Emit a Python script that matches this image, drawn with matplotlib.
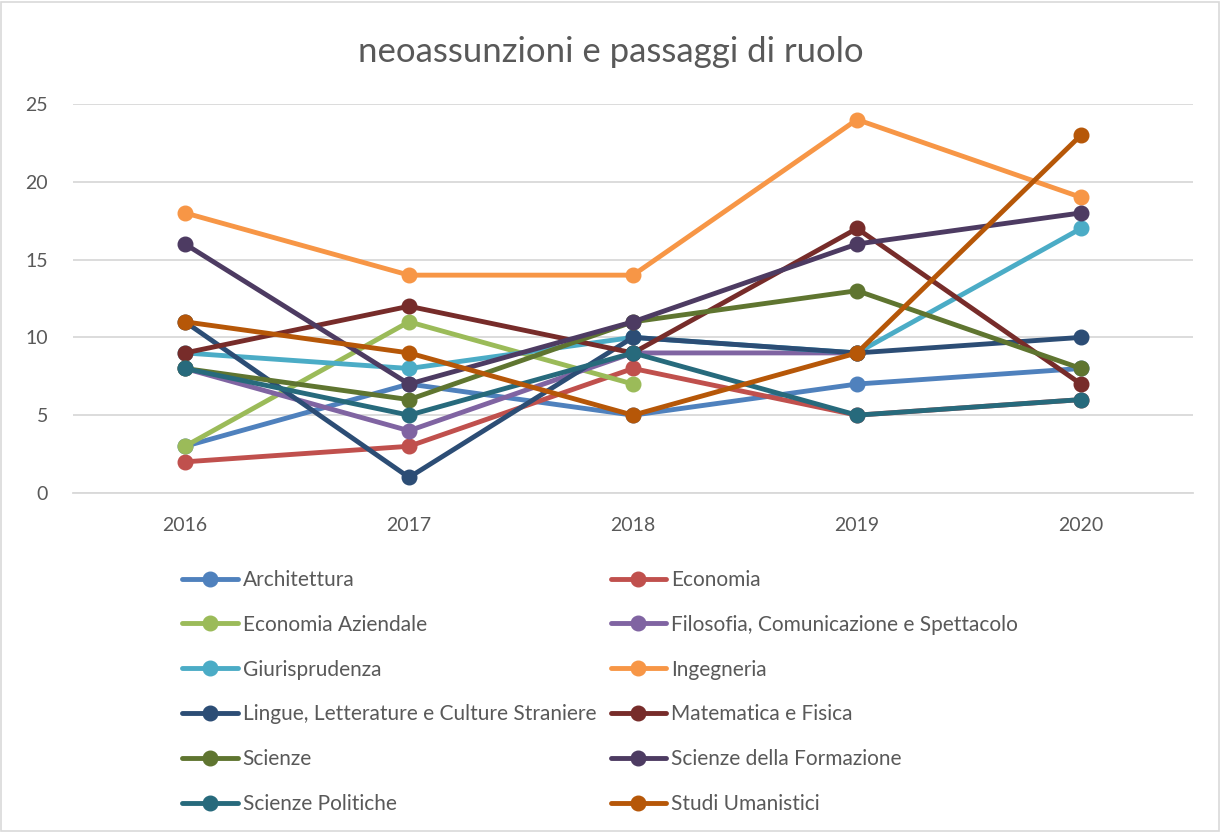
import numpy as np
import matplotlib.pyplot as plt
from matplotlib.patches import Rectangle

years = ["2016", "2017", "2018", "2019", "2020"]
nan = np.nan

architettura = [3, 7, 5, 7, 8]
economia = [2, 3, 8, 5, 6]
economia_aziendale = [3, 11, 7, nan, nan]
filosofia = [8, 4, 9, 9, nan]
giurisprudenza = [9, 8, 10, 9, 17]
ingegneria = [18, 14, 14, 24, 19]
lingue = [11, 1, 10, 9, 10]
matematica = [9, 12, 9, 17, 7]
scienze = [8, 6, 11, 13, 8]
scienze_formazione = [16, 7, 11, 16, 18]
scienze_politiche = [8, 5, 9, 5, 6]
studi_umanistici = [11, 9, 5, 9, 23]

names = ["Architettura", "Economia", "Economia Aziendale",
         "Filosofia, Comunicazione e Spettacolo", "Giurisprudenza", "Ingegneria",
         "Lingue, Letterature e Culture Straniere", "Matematica e Fisica",
         "Scienze", "Scienze della Formazione", "Scienze Politiche", "Studi Umanistici"]
series = [architettura, economia, economia_aziendale, filosofia, giurisprudenza,
          ingegneria, lingue, matematica, scienze, scienze_formazione,
          scienze_politiche, studi_umanistici]
colors = ["#4F81BD", "#C0504D", "#9BBB59", "#8064A2", "#4BACC6", "#F79646",
          "#2C4D75", "#772C2A", "#5F7530", "#4D3B62", "#276A7C", "#B65708"]

plt.rcParams["font.family"] = ["Lato", "DejaVu Sans"]

fig = plt.figure(figsize=(12.21, 8.32), dpi=100)
ax = fig.add_axes([0.0598, 0.4075, 0.9173, 0.4675])

x = np.arange(len(years))
lines = []
for name, vals, c in zip(names, series, colors):
    ln, = ax.plot(x, vals, color=c, lw=3.5, marker="o", markersize=10.5, label=name,
                  solid_capstyle="round")
    lines.append(ln)

ax.set_xlim(-0.5, 4.5)
ax.set_ylim(0, 25)
ax.set_yticks([0, 5, 10, 15, 20, 25])
ax.set_xticks(x)
ax.set_xticklabels(years)
ax.grid(axis="y", color="#D9D9D9", lw=1.3)
ax.set_axisbelow(True)
for s in ["top", "right", "left"]:
    ax.spines[s].set_visible(False)
ax.spines["bottom"].set_color("#D9D9D9")
ax.spines["bottom"].set_linewidth(1.3)
ax.tick_params(length=0, labelsize=14, colors="#595959")
ax.tick_params(axis="y", pad=18)
ax.tick_params(axis="x", pad=17)

fig.text(0.5, 0.938, "neoassunzioni e passaggi di ruolo", ha="center", va="center",
         fontsize=25, color="#595959")

order = [0, 2, 4, 6, 8, 10, 1, 3, 5, 7, 9, 11]
fig.legend([lines[i] for i in order], [names[i] for i in order], ncol=2,
           loc="upper left", bbox_to_anchor=(0.1425, 0.325), frameon=False,
           fontsize=15, labelcolor="#595959", handlelength=2.65, handletextpad=0.25,
           columnspacing=0.7, labelspacing=1.19, borderaxespad=0)

fig.patches.append(Rectangle((0.001, 0.001), 0.997, 0.997, transform=fig.transFigure,
                             fill=False, edgecolor="#D9D9D9", lw=1.2))

fig.savefig("out.png", dpi=100)
